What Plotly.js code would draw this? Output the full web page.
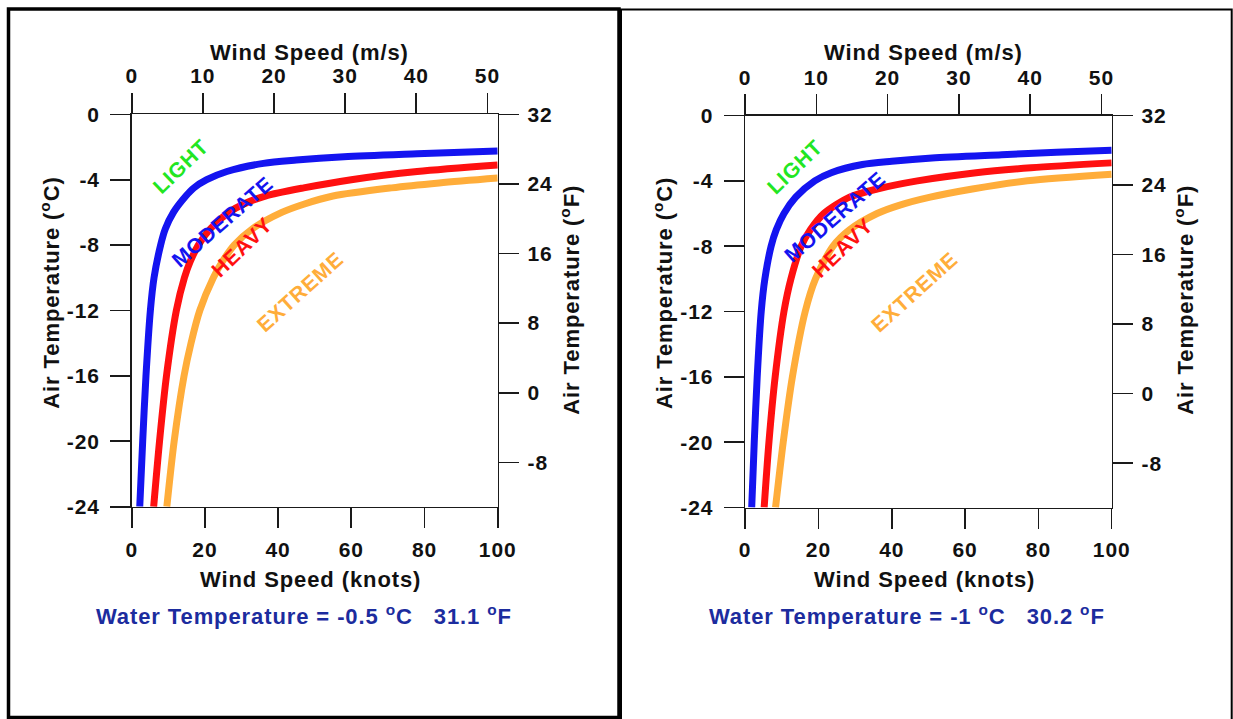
<!DOCTYPE html>
<html>
<head>
<meta charset="utf-8">
<script src="https://cdn.plot.ly/plotly-3.0.1.min.js"></script>
<style>
  html, body { margin: 0; padding: 0; background: #fff; }
  #chart { width: 1233px; height: 719px; }
  text { letter-spacing: 0.9px; }
</style>
</head>
<body>
<div id="chart"></div>
<script>
// ---------------- DATA ----------------
// Tick labels
const knotTicks = [0, 20, 40, 60, 80, 100];
const msTicks = [0, 10, 20, 30, 40, 50];
const celsiusTicks = [0, -4, -8, -12, -16, -20, -24];
const fahrenheitTicks = [32, 24, 16, 8, 0, -8];

// Zone names
const zoneNames = ['LIGHT', 'MODERATE', 'HEAVY', 'EXTREME'];

// Panel captions (water temperature)
const waterTempLabels = [
  'Water Temperature = -0.5 <sup>o</sup>C\u00a0\u00a0\u00a031.1 <sup>o</sup>F',
  'Water Temperature = -1 <sup>o</sup>C\u00a0\u00a0\u00a030.2 <sup>o</sup>F'
];

// Left panel (water -0.5 C): boundary curves, wind speed (knots) vs air temperature (C)
const leftLightModKnots = [2.2, 3.0, 3.9, 5.1, 6.1, 7.9, 9.2, 11.4, 14.8, 17.0, 20.5, 26, 36, 45, 58, 78, 100];
const leftLightModTemp  = [-24, -20, -16, -12, -10, -8, -7, -6, -5, -4.5, -4, -3.5, -3, -2.8, -2.6, -2.42, -2.25];

const leftModHeavyKnots = [6.0, 7.6, 9.5, 12.2, 14.4, 16.0, 18.2, 21.5, 26.5, 30.5, 36.5, 47, 60, 78, 100];
const leftModHeavyTemp  = [-24, -20, -16, -12, -10, -9, -8, -7, -6, -5.5, -5, -4.5, -4, -3.5, -3.1];

const leftHeavyExtKnots = [9.6, 11.6, 14.3, 16.2, 18.6, 22.3, 24.8, 28.0, 33.0, 41, 47, 55, 71, 84, 100];
const leftHeavyExtTemp  = [-24, -20, -16, -14, -12, -10, -9, -8, -7, -6, -5.5, -5, -4.5, -4.2, -3.9];

// Right panel (water -1 C)
const rightLightModKnots = [1.8, 2.5, 3.3, 4.4, 5.4, 7.1, 8.5, 10.6, 13.8, 19.0, 23.5, 32, 40, 51, 70, 85, 100];
const rightLightModTemp  = [-24, -20, -16, -12, -10, -8, -7, -6, -5, -4, -3.5, -3, -2.8, -2.6, -2.4, -2.25, -2.13];

const rightModHeavyKnots = [5.2, 6.5, 8.2, 10.6, 12.5, 15.3, 17.8, 21.5, 28.5, 36, 47, 63, 78, 100];
const rightModHeavyTemp  = [-24, -20, -16, -12, -10, -8, -7, -6, -5, -4.5, -4, -3.5, -3.2, -2.9];

const rightHeavyExtKnots = [8.3, 10.4, 12.9, 16.4, 19.2, 24.0, 28.5, 36, 42, 50.5, 62, 77, 100];
const rightHeavyExtTemp  = [-24, -20, -16, -12, -10, -8, -7, -6, -5.5, -5, -4.5, -4, -3.6];

// Zone label anchor positions [knots, C] and angles (deg), per panel
const leftLabelKnots  = [13.6, 24.7, 29.9, 46];
const leftLabelTemp   = [-3.16, -6.53, -8.12, -10.84];
const rightLabelKnots = [13.6, 24.5, 26.6, 46.2];
const rightLabelTemp  = [-3.13, -6.19, -8.1, -10.75];
const labelAngles     = [-44, -41, -44, -42];

// Unit conversion factor / range for the secondary axes
const knotsToMs = 0.514444;
const fahrenheitRange = [-13.1, 32];

// ---------------- STYLE / LAYOUT ----------------
const W = 1233, H = 719;
const fx = p => p / W;
const fy = p => 1 - p / H;

const FONT = 'Liberation Sans, Arial, Helvetica, sans-serif';
const curveColors = ['#1414f0', '#ff1010', '#ffad3a'];
const labelColors = ['#22e622', '#1414f0', '#ff1010', '#ffad3a'];
const axisColor = '#1a1a1a';
const tickFont = { family: FONT, size: 21, color: '#111', weight: 700 };
const titleFont = { family: FONT, size: 22, color: '#111', weight: 700 };

const panels = [
  { x0: 131.7, x1: 497.7, y0: 114.3, y1: 506.7,
    curves: [[leftLightModKnots, leftLightModTemp], [leftModHeavyKnots, leftModHeavyTemp], [leftHeavyExtKnots, leftHeavyExtTemp]],
    lk: leftLabelKnots, lt: leftLabelTemp, water: waterTempLabels[0] },
  { x0: 745.1, x1: 1111.7, y0: 115.5, y1: 507.5,
    curves: [[rightLightModKnots, rightLightModTemp], [rightModHeavyKnots, rightModHeavyTemp], [rightHeavyExtKnots, rightHeavyExtTemp]],
    lk: rightLabelKnots, lt: rightLabelTemp, water: waterTempLabels[1] }
];

const traces = [];
const layout = {
  width: W, height: H,
  margin: { l: 0, r: 0, t: 0, b: 0 },
  paper_bgcolor: '#fff', plot_bgcolor: '#fff',
  showlegend: false,
  annotations: [],
  shapes: []
};

function axisBase() {
  return {
    showgrid: false, zeroline: false, showline: true,
    linecolor: axisColor, linewidth: 1.6,
    ticks: 'outside', ticklen: 20, tickwidth: 1.6, tickcolor: axisColor,
    tickfont: tickFont, fixedrange: true
  };
}

panels.forEach((p, i) => {
  const n = i * 4;
  const sfx = k => (k === 1 ? '' : String(k));
  const xk = 'x' + sfx(n + 1), xm = 'x' + sfx(n + 2);
  const yc = 'y' + sfx(n + 1), yf = 'y' + sfx(n + 2);
  const xdom = [fx(p.x0), fx(p.x1)];
  const ydom = [fy(p.y1), fy(p.y0)];

  layout['xaxis' + sfx(n + 1)] = Object.assign(axisBase(), {
    domain: xdom, anchor: yc, side: 'bottom', range: [0, 100],
    tickmode: 'array', tickvals: knotTicks, ticktext: knotTicks.map(String),
    ticklabelstandoff: 3
  });
  layout['xaxis' + sfx(n + 2)] = Object.assign(axisBase(), {
    domain: xdom, anchor: yc, overlaying: xk, side: 'top', range: [0, 100 * knotsToMs],
    tickmode: 'array', tickvals: msTicks, ticktext: msTicks.map(String),
    ticklabelstandoff: 1
  });
  layout['yaxis' + sfx(n + 1)] = Object.assign(axisBase(), {
    domain: ydom, anchor: xk, side: 'left', range: [-24, 0],
    tickmode: 'array', tickvals: celsiusTicks, ticktext: celsiusTicks.map(String),
    ticklabelstandoff: 6
  });
  layout['yaxis' + sfx(n + 2)] = Object.assign(axisBase(), {
    domain: ydom, anchor: xk, overlaying: yc, side: 'right', range: fahrenheitRange,
    tickmode: 'array', tickvals: fahrenheitTicks, ticktext: fahrenheitTicks.map(String),
    ticklabelstandoff: 4
  });

  p.curves.forEach((c, k) => {
    traces.push({
      type: 'scatter', mode: 'lines', x: c[0], y: c[1],
      xaxis: xk, yaxis: yc, hoverinfo: 'skip',
      line: { color: curveColors[k], width: 7, shape: 'spline', smoothing: 0.8 }
    });
  });
  // invisible helper traces so the secondary axes belong to real subplots
  traces.push({ type: 'scatter', mode: 'lines', x: [0, 100 * knotsToMs], y: [-24, -24], xaxis: xm, yaxis: yc,
    line: { width: 0 }, hoverinfo: 'skip', opacity: 0 });
  traces.push({ type: 'scatter', mode: 'lines', x: [0, 100], y: fahrenheitRange, xaxis: xk, yaxis: yf,
    line: { width: 0 }, hoverinfo: 'skip', opacity: 0 });

  // zone labels
  zoneNames.forEach((name, k) => {
    layout.annotations.push({
      xref: xk, yref: yc, x: p.lk[k], y: p.lt[k], text: name, showarrow: false,
      textangle: labelAngles[k], xanchor: 'center', yanchor: 'middle',
      font: { family: FONT, size: 21, color: labelColors[k], weight: 700 }
    });
  });

  const cx = (p.x0 + p.x1) / 2 - 5;
  layout.annotations.push({
    xref: 'paper', yref: 'paper', x: fx(cx), y: fy(53), text: 'Wind Speed (m/s)',
    showarrow: false, xanchor: 'center', yanchor: 'middle', font: titleFont
  });
  layout.annotations.push({
    xref: 'paper', yref: 'paper', x: fx(cx + 1), y: fy(579), text: 'Wind Speed (knots)',
    showarrow: false, xanchor: 'center', yanchor: 'middle', font: titleFont
  });
  layout.annotations.push({
    xref: 'paper', yref: 'paper', x: fx(p.x0 - 82), y: fy(293), text: 'Air Temperature (<sup>o</sup>C)',
    showarrow: false, xanchor: 'center', yanchor: 'middle', textangle: -90, font: titleFont
  });
  layout.annotations.push({
    xref: 'paper', yref: 'paper', x: fx(p.x1 + 72), y: fy(300), text: 'Air Temperature (<sup>o</sup>F)',
    showarrow: false, xanchor: 'center', yanchor: 'middle', textangle: -90, font: titleFont
  });
  layout.annotations.push({
    xref: 'paper', yref: 'paper', x: fx(p.x0 - 38), y: fy(615), text: p.water,
    showarrow: false, xanchor: 'left', yanchor: 'middle',
    font: { family: FONT, size: 22, color: '#1c2c9e', weight: 700 }
  });
});

// Frames
layout.shapes.push({
  type: 'rect', xref: 'paper', yref: 'paper',
  x0: fx(8.5), x1: fx(619), y0: fy(717.5), y1: fy(9),
  line: { color: '#000', width: 3.5 }, fillcolor: 'rgba(0,0,0,0)'
});
layout.shapes.push({
  type: 'path', xref: 'paper', yref: 'paper',
  path: `M ${fx(621)} ${fy(722)} L ${fx(621)} ${fy(9.5)} L ${fx(1231.7)} ${fy(9.5)} L ${fx(1231.7)} ${fy(722)}`,
  line: { color: '#000', width: 2 }
});

Plotly.newPlot('chart', traces, layout, { staticPlot: true, displayModeBar: false });
</script>
</body>
</html>
